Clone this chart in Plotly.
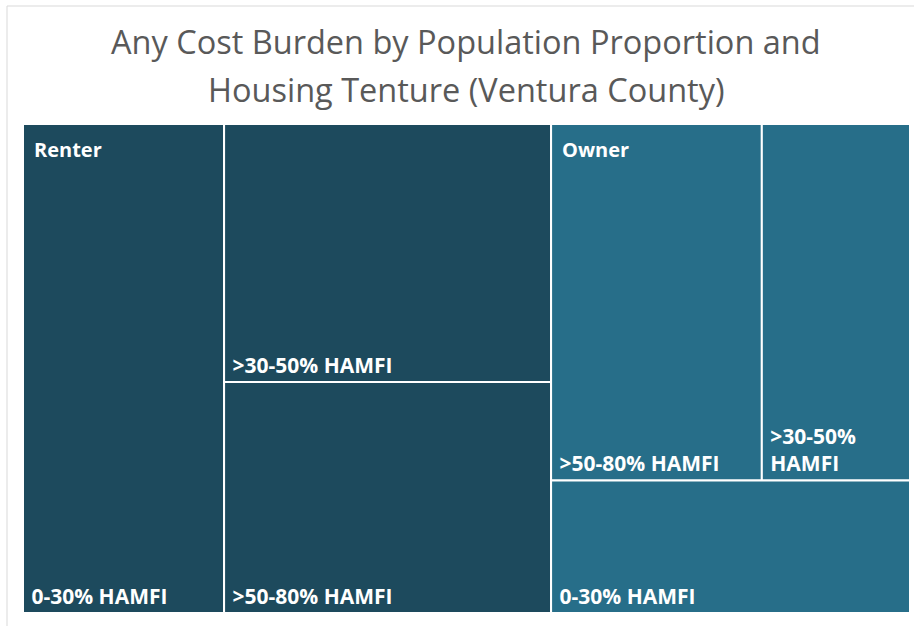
import plotly.graph_objects as go

# ---- data ----
title_lines = ["Any Cost Burden by Population Proportion and",
               "Housing Tenture (Ventura County)"]
tenures = ["Renter", "Owner"]
income_bands = ["0-30% HAMFI", ">30-50% HAMFI", ">50-80% HAMFI"]
renter_values = [12920, 11090, 9920]   # 0-30, >30-50, >50-80
owner_values = [6250, 6940, 9870]      # 0-30, >30-50, >50-80
owner_display = ["0-30% HAMFI", ">30-50%<br>HAMFI", ">50-80% HAMFI"]
tenure_colors = ["#1d4a5d", "#276e89"]

W, H = 914, 626
PX0, PX1, PY0, PY1 = 23, 910, 124, 613   # plot rectangle in pixels

total = sum(renter_values) + sum(owner_values)
split_px = PX0 + (PX1 - PX0) * sum(renter_values) / total
dom_y = [1 - PY1 / H, 1 - PY0 / H]

FONT = "Open Sans"


def pad_text(s):
    return " " + s.replace("<br>", "<br> ")


def tenure_trace(name, values, display, color, x0, x1, tiling):
    ids = [name] + [f"{name} {b}" for b in income_bands]
    labels = [name] + income_bands
    parents = [""] + [name] * len(income_bands)
    vals = [sum(values)] + values
    texts = [""] + [pad_text(d) for d in display]
    return go.Treemap(
        ids=ids, labels=labels, parents=parents, values=vals,
        branchvalues="total", sort=True,
        text=texts, texttemplate="%{text}",
        textposition="bottom left",
        textfont=dict(family=FONT, size=21, color="white", weight="bold"),
        marker=dict(colors=[color] * len(ids),
                    line=dict(color="white", width=2),
                    pad=dict(t=0, l=0, r=0, b=0)),
        tiling=tiling,
        pathbar=dict(visible=False),
        domain=dict(x=[x0 / W, x1 / W], y=dom_y),
        hovertemplate="%{label}: %{value}<extra></extra>",
    )


fig = go.Figure()
fig.add_trace(tenure_trace(tenures[0], renter_values, income_bands,
                           tenure_colors[0], PX0, split_px,
                           dict(packing="binary", pad=0)))
fig.add_trace(tenure_trace(tenures[1], owner_values, owner_display,
                           tenure_colors[1], split_px, PX1,
                           dict(packing="squarify", squarifyratio=1.618, pad=0)))

annotations = []
for i, t in enumerate(tenures):
    xpx = (PX0 if i == 0 else split_px) + 9
    annotations.append(dict(x=xpx / W, y=1 - (PY0 + 10) / H, xref="paper", yref="paper",
                            xanchor="left", yanchor="top", showarrow=False,
                            text=f"<b>{t}</b>",
                            font=dict(family=FONT, size=20, color="white")))
cx = (PX0 + PX1) / 2 / W
for j, (line, ypx) in enumerate(zip(title_lines, [42, 90])):
    annotations.append(dict(x=cx, y=1 - ypx / H, xref="paper", yref="paper",
                            xanchor="center", yanchor="middle", showarrow=False,
                            text=line,
                            font=dict(family=FONT, size=32.5, color="#595959")))

fig.update_layout(
    width=W, height=H,
    margin=dict(l=0, r=0, t=0, b=0),
    paper_bgcolor="white",
    annotations=annotations,
    shapes=[dict(type="rect", xref="paper", yref="paper",
                 x0=7 / W, x1=1.02, y0=-0.02, y1=1 - 6 / H,
                 line=dict(color="#d9d9d9", width=1))],
)

fig.write_html("out.html",
               config={"displayModeBar": False},
               post_script="document.body.style.margin='0';")
